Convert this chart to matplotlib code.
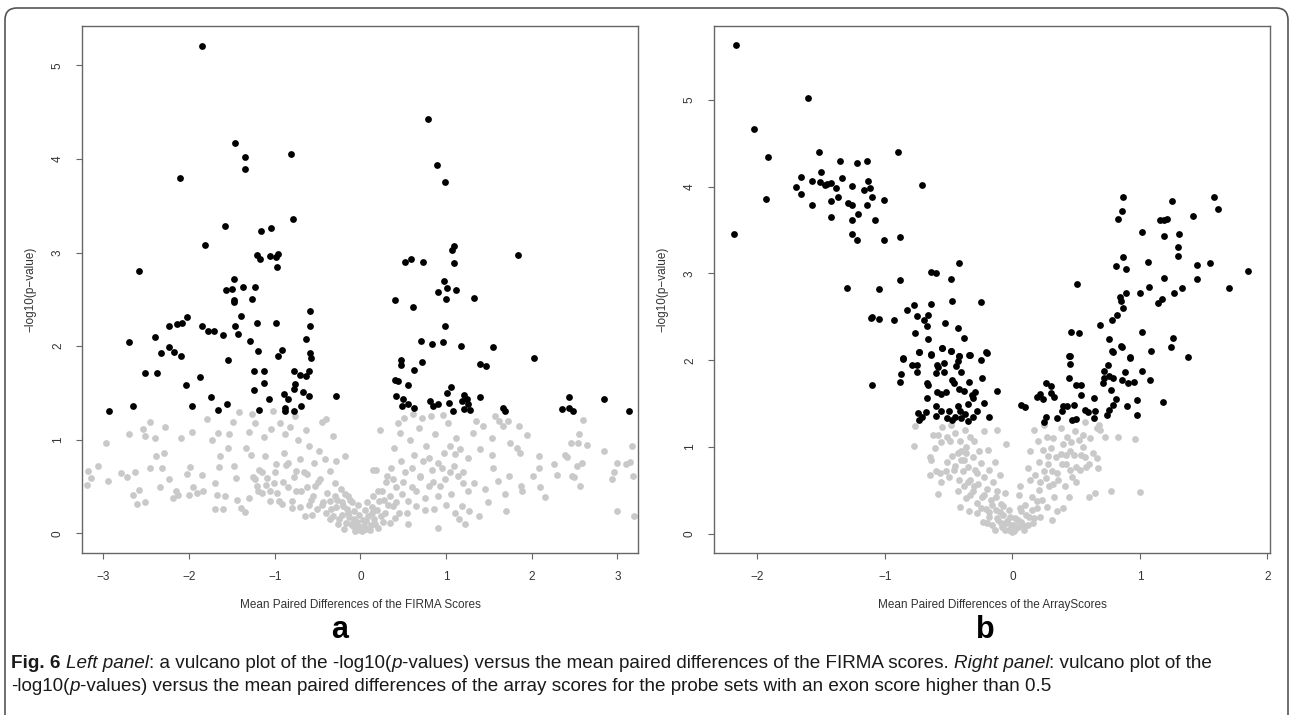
import matplotlib
matplotlib.use('Agg')
import matplotlib.pyplot as plt
from matplotlib.patches import FancyBboxPatch
from matplotlib.transforms import IdentityTransform

plt.rcParams['font.family'] = ['Liberation Sans', 'DejaVu Sans']

# ---- panel a: FIRMA scores ----
firma_sig = [
    (-1.85,5.21),(0.79,4.43),(-1.46,4.17),(-1.35,4.02),(-1.35,3.89),(-0.81,4.05),(-2.11,3.80),
    (0.89,3.93),(0.99,3.75),(-0.79,3.36),(-1.58,3.28),(-1.04,3.26),(-1.16,3.23),(-1.82,3.08),
    (1.09,3.07),(1.07,3.03),(-2.58,2.80),(-1.21,2.97),(-1.17,2.93),(-1.06,2.96),(-0.98,2.95),
    (-0.96,2.98),(-0.97,2.85),(1.84,2.97),(0.52,2.90),(0.59,2.93),(0.73,2.90),(1.09,2.89),
    (0.98,2.70),(1.01,2.62),(0.90,2.58),(1.11,2.60),(1.00,2.50),(1.32,2.51),(0.40,2.49),
    (0.61,2.42),(0.99,2.22),(-1.48,2.72),(-1.57,2.60),(-1.50,2.61),(-1.37,2.63),(-1.23,2.63),
    (-1.47,2.49),(-1.47,2.47),(-1.27,2.50),(-1.39,2.32),(-0.59,2.38),(-2.02,2.31),(-2.14,2.24),
    (-2.08,2.25),(-1.85,2.22),(-2.23,2.21),(-1.78,2.16),(-1.71,2.16),(-1.60,2.12),(-1.46,2.22),
    (-1.43,2.13),(-1.21,2.25),(-0.98,2.25),(-0.59,2.21),(-0.63,2.08),(-1.29,2.06),(-2.40,2.10),
    (-2.70,2.04),(0.71,2.06),(0.83,2.02),(0.96,2.04),(1.17,2.00),(1.55,1.99),(-1.20,1.95),
    (-0.92,1.96),(-2.33,1.93),(-2.23,1.99),(-2.18,1.94),(-0.59,1.93),(2.03,1.87),
    (-2.10,1.89),(-2.51,1.71),(-2.38,1.71),(-2.04,1.59),(-1.87,1.67),(-1.97,1.36),(-2.66,1.36),
    (-2.93,1.31),(-1.74,1.46),(-1.66,1.32),(-1.56,1.38),(-1.54,1.85),(-1.24,1.73),(-1.12,1.73),
    (-1.12,1.61),(-1.24,1.53),(-1.07,1.44),(-1.18,1.32),(-0.96,1.89),(-0.78,1.73),(-0.70,1.69),
    (-0.63,1.68),(-0.60,1.73),(-0.58,1.87),(-0.76,1.60),(-0.67,1.51),(-0.77,1.54),(-0.89,1.49),
    (-0.85,1.43),(-0.60,1.47),(-0.88,1.34),(-0.88,1.31),(-0.69,1.36),(-0.78,1.31),(-0.29,1.47),
    (0.47,1.85),(0.47,1.80),(0.72,1.83),(0.62,1.75),(0.40,1.64),(0.44,1.63),(0.55,1.59),
    (0.41,1.47),(0.50,1.43),(0.48,1.36),(0.56,1.38),(0.63,1.34),(0.81,1.41),(0.85,1.36),
    (0.91,1.38),(1.03,1.39),(1.08,1.31),(1.01,1.50),(1.06,1.56),(1.21,1.48),(1.24,1.43),
    (1.19,1.41),(1.26,1.38),(1.21,1.33),(1.28,1.32),(1.39,1.46),(1.40,1.81),(1.47,1.79),
    (1.66,1.34),(1.69,1.31),(2.35,1.33),(2.44,1.46),(2.43,1.34),(2.48,1.31),(2.84,1.43),
    (3.13,1.31),
]

firma_ns = [
    (-2.97,0.97),(-3.18,0.67),(-3.15,0.59),(-3.19,0.52),(-3.06,0.72),(-2.95,0.56),(-2.80,0.64),
    (-2.72,0.60),(-2.70,1.06),(-2.65,0.41),(-2.63,0.66),(-2.61,0.31),(-2.58,0.46),(-2.54,1.11),
    (-2.51,1.04),(-2.51,0.33),(-2.46,1.19),(-2.46,0.70),(-2.40,1.02),(-2.39,0.83),(-2.34,0.50),
    (-2.32,0.70),(-2.29,0.86),(-2.28,1.14),(-2.23,0.58),(-2.19,0.38),(-2.15,0.45),(-2.13,0.41),
    (-2.10,1.02),(-2.03,0.63),(-2.00,0.41),(-1.99,0.71),(-1.97,1.08),(-1.95,0.49),(-1.91,0.43),
    (-1.85,0.62),(-1.84,0.45),(-1.79,1.22),(-1.73,1.00),(-1.70,0.54),(-1.70,0.26),(-1.67,0.41),
    (-1.66,1.07),(-1.65,0.71),(-1.64,0.83),(-1.60,0.26),(-1.58,0.40),(-1.55,0.91),(-1.53,1.06),
    (-1.49,1.19),(-1.47,0.72),(-1.45,0.59),(-1.44,0.36),(-1.42,1.30),(-1.39,0.27),(-1.35,0.23),
    (-1.34,0.91),(-1.30,1.08),(-1.28,0.84),(-1.27,1.27),(-1.23,0.58),(-1.23,1.18),(-1.21,0.51),
    (-1.18,0.68),(-1.15,0.43),(-1.12,1.03),(-1.11,0.83),(-1.09,0.59),(-1.06,0.35),(-1.04,1.12),
    (-1.02,1.31),(-1.01,0.54),(-0.98,0.74),(-0.97,0.43),(-0.94,1.18),(-0.92,0.31),(-0.89,0.86),
    (-0.88,1.06),(-0.87,0.73),(-0.85,0.49),(-0.82,1.14),(-0.80,0.27),(-0.76,1.25),(-0.75,0.67),
    (-0.73,1.00),(-0.70,0.79),(-0.69,0.45),(-0.65,0.18),(-0.63,1.10),(-0.62,0.63),(-0.60,0.93),
    (-0.58,0.36),(-0.57,0.20),(-0.54,0.75),(-0.53,0.51),(-0.51,0.26),(-0.48,0.88),(-0.47,0.58),
    (-0.45,1.19),(-0.44,0.33),(-0.41,0.79),(-0.40,1.22),(-0.39,0.43),(-0.36,0.15),(-0.35,0.67),
    (-0.34,0.26),(-0.32,1.04),(-0.30,0.54),(-0.28,0.77),(-0.27,0.36),(-0.25,0.15),(-0.23,0.47),
    (-0.20,0.29),(-0.18,0.83),(-0.17,0.11),(-0.15,0.40),(-0.14,0.22),(-0.11,0.10),(-0.10,0.33),
    (-0.07,0.15),(-0.05,0.06),(-0.02,0.20),(0.00,0.04),(0.04,0.08),(0.07,0.13),(0.11,0.04),
    (0.14,0.22),(0.15,0.68),(0.17,0.10),(0.18,0.68),(0.20,0.45),(0.23,1.10),(0.24,0.18),
    (0.28,0.36),(0.31,0.61),(0.34,0.11),(0.36,0.70),(0.38,0.29),(0.39,0.91),(0.41,0.49),
    (0.44,1.18),(0.45,0.22),(0.46,1.07),(0.47,0.77),(0.49,0.42),(0.51,1.23),(0.52,0.65),
    (0.54,0.22),(0.56,0.10),(0.58,1.00),(0.60,0.49),(0.61,1.27),(0.63,0.84),(0.65,0.29),
    (0.68,1.13),(0.70,0.61),(0.72,1.23),(0.73,0.77),(0.75,0.38),(0.77,0.93),(0.80,0.51),
    (0.82,1.25),(0.83,0.68),(0.86,0.26),(0.87,1.06),(0.90,0.06),(0.91,0.75),(0.93,0.51),
    (0.96,1.26),(0.97,0.86),(0.99,0.58),(1.02,1.18),(1.04,0.93),(1.06,0.42),(1.09,0.72),
    (1.10,0.22),(1.12,1.02),(1.14,0.61),(1.16,0.90),(1.19,0.29),(1.20,0.54),(1.22,0.10),
    (1.25,0.81),(1.27,0.24),(1.31,1.07),(1.33,0.54),(1.35,1.20),(1.38,0.18),(1.40,0.90),
    (1.43,1.15),(1.45,0.47),(1.49,0.33),(1.53,1.02),(1.53,0.84),(1.55,0.70),(1.57,1.25),
    (1.60,0.56),(1.62,1.20),(1.66,1.15),(1.69,0.42),(1.70,0.24),(1.72,1.20),(1.74,0.61),
    (1.75,0.97),(1.83,0.91),(1.85,1.15),(1.86,0.86),(1.88,0.51),(1.89,0.45),(1.94,1.05),
    (2.02,0.61),(2.08,0.70),(2.09,0.83),(2.10,0.49),(2.15,0.39),(2.26,0.74),(2.30,0.62),
    (2.39,0.84),(2.41,0.82),(2.46,0.97),(2.47,0.61),(2.49,0.60),(2.53,0.72),(2.54,0.97),
    (2.55,1.06),(2.56,0.51),(2.59,0.75),(2.60,1.21),(2.65,0.94),(2.84,0.88),(2.94,0.58),
    (2.96,0.65),(3.00,0.75),(3.00,0.24),(3.10,0.74),(3.15,0.76),(3.17,0.93),(3.18,0.61),
    (3.19,0.19),
    (-0.45,0.30),(-0.40,0.22),(-0.35,0.35),(-0.32,0.18),(-0.30,0.40),(-0.28,0.28),(-0.26,0.10),
    (-0.22,0.34),(-0.21,0.20),(-0.19,0.05),(-0.18,0.42),(-0.16,0.26),(-0.13,0.17),(-0.12,0.36),
    (-0.09,0.08),(-0.08,0.24),(-0.06,0.02),(-0.04,0.12),(-0.03,0.30),(-0.01,0.07),(0.02,0.02),
    (0.03,0.14),(0.05,0.25),(0.06,0.05),(0.08,0.33),(0.09,0.18),(0.12,0.09),(0.13,0.28),
    (0.15,0.40),(0.16,0.15),(0.19,0.25),(0.21,0.06),(0.22,0.35),(0.25,0.45),(0.26,0.12),
    (0.29,0.22),(0.30,0.55),(0.32,0.30),(0.35,0.40),(0.38,0.58),(0.40,0.16),(0.42,0.33),
    (-0.50,0.55),(-0.55,0.40),(-0.60,0.30),(-0.62,0.50),(-0.66,0.65),(-0.70,0.28),(-0.75,0.45),
    (-0.78,0.60),(-0.80,0.35),(-0.85,0.75),(-0.90,0.55),(-0.95,0.35),(-1.00,0.65),(-1.05,0.45),
    (-1.10,0.52),(-1.15,0.65),(-1.20,0.45),(-1.25,0.60),(-1.30,0.38),(0.50,0.55),(0.55,0.35),
    (0.60,0.70),(0.65,0.45),(0.70,0.60),(0.75,0.25),(0.80,0.80),(0.85,0.55),(0.90,0.40),
    (0.95,0.70),(1.00,0.30),(1.05,0.65),(1.10,0.85),(1.15,0.15),(1.20,0.65),(1.25,0.45),
]

# ---- panel b: array scores ----
array_sig = [
    (-2.17,5.63),(-2.18,3.46),(-1.60,5.02),(-2.03,4.66),(-1.92,4.34),(-1.93,3.86),(-1.52,4.40),
    (-0.90,4.40),(-1.70,4.00),(-1.66,4.11),(-1.66,3.92),(-1.57,4.07),(-1.57,3.79),(-1.50,4.17),
    (-1.51,4.05),(-1.47,4.02),(-1.45,4.03),(-1.42,4.04),(-1.42,3.83),(-1.42,3.65),(-1.38,3.98),
    (-1.37,3.88),(-1.35,4.29),(-1.34,4.10),(-1.29,3.81),(-1.26,4.01),(-1.26,3.79),(-1.26,3.61),
    (-1.26,3.45),(-1.22,4.27),(-1.22,3.38),(-1.21,3.68),(-1.16,3.96),(-1.14,3.79),(-1.14,4.29),
    (-1.13,4.06),(-1.12,3.98),(-1.10,3.88),(-1.08,3.61),(-1.01,3.38),(-1.01,3.85),(-0.88,3.42),
    (-0.71,4.02),(-1.30,2.83),(-1.05,2.82),(-0.88,2.92),(-0.64,3.02),(-0.60,3.01),(-0.42,3.12),
    (-0.48,2.94),(-1.11,2.49),(-1.10,2.50),(-1.05,2.47),(-0.93,2.46),(-0.83,2.58),(-0.77,2.64),
    (-0.75,2.51),(-0.66,2.52),(-0.69,2.46),(-0.64,2.65),(-0.47,2.68),(-0.25,2.67),(-0.53,2.43),
    (-0.76,2.31),(-0.67,2.39),(-0.66,2.24),(-0.43,2.37),(-0.38,2.26),(-0.73,2.10),(-0.64,2.07),
    (-0.55,2.14),(-0.48,2.11),(-0.42,2.05),(-0.34,2.06),(-0.21,2.09),(-0.86,2.03),
    (0.51,2.88),(0.46,2.32),(0.52,2.31),(0.44,2.05),(0.69,2.41),(0.76,2.24),(0.78,2.11),
    (0.85,2.16),(0.92,2.04),(0.78,2.46),(0.82,2.52),(0.87,2.60),(0.85,2.68),(0.84,2.73),
    (0.89,2.78),(0.81,3.09),(0.89,3.05),(0.87,3.19),(0.83,3.63),(0.86,3.72),(0.87,3.88),
    (1.02,3.48),(1.06,3.13),(1.00,2.77),(1.07,2.84),(1.02,2.33),(1.09,2.11),(1.14,2.66),
    (1.17,2.71),(1.19,2.95),(1.19,3.43),(1.16,3.61),(1.19,3.62),(1.21,3.63),(1.25,3.84),
    (1.31,3.46),(1.30,3.31),(1.30,3.20),(1.27,2.78),(1.33,2.83),(1.26,2.26),(1.24,2.15),
    (1.38,2.04),(1.42,3.66),(1.45,3.10),(1.45,2.94),(1.55,3.12),(1.58,3.88),(1.61,3.74),
    (1.70,2.83),(1.85,3.03),
    (-1.10,1.71),(-0.88,1.75),(-0.87,1.84),(-0.86,2.02),(-0.79,1.94),(-0.75,1.94),(-0.75,1.86),
    (-0.73,2.09),(-0.67,1.74),(-0.66,1.72),(-0.67,1.57),(-0.64,2.06),(-0.60,1.85),(-0.59,1.95),
    (-0.58,1.92),(-0.59,1.64),(-0.56,1.61),(-0.52,1.63),(-0.60,1.47),(-0.56,1.41),(-0.60,1.36),
    (-0.54,1.97),(-0.54,1.87),(-0.55,2.14),(-0.48,2.11),(-0.47,1.77),(-0.46,1.74),(-0.44,1.93),
    (-0.43,1.99),(-0.42,2.05),(-0.40,1.87),(-0.42,1.67),(-0.38,1.65),(-0.34,1.75),(-0.33,2.06),
    (-0.32,1.60),(-0.35,1.50),(-0.31,1.56),(-0.29,1.64),(-0.43,1.47),(-0.41,1.41),(-0.45,1.35),
    (-0.40,1.34),(-0.37,1.38),(-0.35,1.30),(-0.47,1.31),(-0.31,1.35),(-0.28,1.41),(-0.25,2.00),
    (-0.24,1.79),(-0.22,1.51),(-0.20,2.08),(-0.18,1.35),(-0.12,1.65),(-0.74,1.39),(-0.71,1.35),
    (-0.73,1.31),(-0.68,1.40),(-0.51,1.33),(-0.50,1.41),
    (0.07,1.49),(0.10,1.46),(0.19,1.58),(0.22,1.61),(0.24,1.55),(0.26,1.74),(0.30,1.70),
    (0.30,1.62),(0.33,1.58),(0.26,1.35),(0.25,1.29),(0.35,1.34),(0.39,1.42),(0.40,1.47),
    (0.43,1.47),(0.45,2.05),(0.45,1.96),(0.44,1.80),(0.50,1.72),(0.54,1.72),(0.54,1.60),
    (0.48,1.49),(0.47,1.31),(0.50,1.32),(0.57,1.43),(0.59,1.40),(0.64,1.57),(0.65,1.42),
    (0.64,1.33),(0.72,1.88),(0.72,1.80),(0.71,1.74),(0.75,1.95),(0.76,1.82),(0.79,1.79),
    (0.77,1.66),(0.79,1.49),(0.81,1.55),(0.76,1.43),(0.74,1.37),(0.79,2.10),(0.86,2.15),
    (0.86,1.77),(0.88,1.87),(0.91,1.74),(0.92,2.03),(0.95,1.75),(0.90,1.47),(0.98,1.54),
    (0.98,1.37),(1.02,1.88),(1.08,1.77),(1.18,1.52),
]

array_ns = [
    (-0.76,1.24),(-0.77,1.01),(-0.65,0.89),(-0.64,0.85),(-0.65,0.68),(-0.62,1.14),(-0.61,0.99),
    (-0.60,0.72),(-0.58,1.14),(-0.58,0.46),(-0.57,0.70),(-0.56,1.06),(-0.56,0.60),(-0.55,1.23),
    (-0.51,1.12),(-0.51,0.83),(-0.50,0.66),(-0.49,1.07),(-0.48,1.26),(-0.46,0.74),(-0.45,1.16),
    (-0.43,0.49),(-0.43,0.93),(-0.42,0.62),(-0.41,0.31),(-0.41,1.07),(-0.40,0.85),(-0.39,0.72),
    (-0.38,0.55),(-0.37,1.20),(-0.36,0.93),(-0.36,0.41),(-0.35,0.77),(-0.34,0.26),(-0.33,1.12),
    (-0.33,0.62),(-0.31,0.89),(-0.31,0.49),(-0.30,1.07),(-0.29,0.74),(-0.28,0.36),(-0.28,0.24),
    (-0.27,0.58),(-0.26,0.95),(-0.25,0.82),(-0.24,0.43),(-0.23,0.14),(-0.22,1.19),(-0.22,0.66),
    (-0.21,0.29),(-0.20,0.52),(-0.19,0.97),(-0.18,0.20),(-0.18,0.74),(-0.17,0.39),(-0.16,0.10),
    (-0.15,0.60),(-0.14,0.83),(-0.13,0.28),(-0.12,0.49),(-0.12,1.20),(-0.11,0.16),(-0.10,0.68),
    (-0.09,0.35),(-0.08,0.08),(-0.07,0.22),(-0.06,0.47),(-0.05,1.04),(-0.05,0.13),(-0.03,0.05),
    (-0.02,0.20),(0.00,0.02),(0.01,0.10),(0.03,0.07),(0.04,0.16),(0.05,0.45),(0.06,0.55),
    (0.07,0.26),(0.08,0.10),(0.10,0.33),(0.12,0.76),(0.13,0.20),(0.14,0.62),(0.14,0.95),
    (0.15,0.43),(0.16,0.13),(0.17,1.20),(0.18,0.68),(0.19,0.30),(0.20,1.07),(0.21,0.51),
    (0.21,0.83),(0.22,0.20),(0.23,0.39),(0.24,0.97),(0.25,1.26),(0.26,0.64),(0.27,1.12),
    (0.27,0.31),(0.28,0.80),(0.29,0.55),(0.30,0.99),(0.31,0.16),(0.31,0.72),(0.32,1.10),
    (0.33,0.43),(0.34,0.88),(0.35,0.26),(0.36,0.62),(0.38,1.22),(0.39,0.81),(0.40,0.30),
    (0.40,1.04),(0.41,0.55),(0.42,0.91),(0.43,1.12),(0.44,0.43),(0.45,0.74),(0.46,1.06),
    (0.47,0.65),(0.48,0.91),(0.49,1.18),(0.50,0.77),(0.52,1.08),(0.53,0.74),(0.54,0.91),
    (0.55,1.14),(0.57,0.89),(0.57,1.29),(0.58,0.77),(0.60,0.43),(0.61,1.10),(0.63,0.93),
    (0.65,0.47),(0.66,1.22),(0.66,0.87),(0.67,0.76),(0.68,1.26),(0.69,1.20),(0.73,1.12),
    (0.77,0.49),(0.83,1.12),(0.96,1.09),(1.00,0.48),
    (-0.25,0.30),(-0.22,0.45),(-0.20,0.12),(-0.18,0.25),(-0.16,0.33),(-0.14,0.05),(-0.13,0.42),
    (-0.12,0.18),(-0.10,0.25),(-0.09,0.12),(-0.07,0.32),(-0.06,0.04),(-0.04,0.15),(-0.03,0.27),
    (-0.01,0.10),(0.01,0.03),(0.02,0.18),(0.04,0.08),(0.06,0.30),(0.07,0.14),(0.09,0.04),
    (0.11,0.22),(0.12,0.10),(0.15,0.28),(0.17,0.18),(0.19,0.38),(-0.30,0.55),(-0.28,0.70),
    (-0.33,0.45),(-0.35,0.60),(-0.38,0.85),(-0.40,0.95),(-0.45,0.78),(-0.47,0.90),(-0.52,0.72),
    (-0.36,1.00),(0.22,0.60),(0.25,0.72),(0.28,0.90),(0.32,0.58),(0.35,0.70),(0.38,0.92),
    (0.42,0.80),(0.45,0.95),(0.50,0.60),(0.55,1.00),(0.60,0.80),
]

firma_xticks = [-3, -2, -1, 0, 1, 2, 3]
array_xticks = [-2, -1, 0, 1, 2]
firma_yticks = [0, 1, 2, 3, 4, 5]
array_yticks = [0, 1, 2, 3, 4, 5]

W, H = 1292, 715
fig = plt.figure(figsize=(W / 100, H / 100), dpi=100)
fig.patch.set_facecolor('white')

GREY = '#c9c9c9'
AX_COL = '#666666'
TXT_COL = '#333333'


def volcano(ax, ns, sig, xlim, ylim, xticks, yticks, xlabel):
    ax.scatter([p[0] for p in ns], [p[1] for p in ns], s=24, color=GREY,
               linewidths=0, zorder=2)
    ax.scatter([p[0] for p in sig], [p[1] for p in sig], s=24, color='black',
               linewidths=0, zorder=3)
    ax.set_xlim(xlim)
    ax.set_ylim(ylim)
    ax.set_xticks(xticks)
    ax.set_yticks(yticks)
    ax.set_xticklabels(['\u2212%d' % -t if t < 0 else '%d' % t for t in xticks])
    for s in ax.spines.values():
        s.set_color(AX_COL)
        s.set_linewidth(1.0)
    ax.tick_params(direction='out', length=4, width=0.8, color=AX_COL,
                   labelsize=8.5, labelcolor=TXT_COL, pad=9)
    ax.tick_params(axis='y', labelrotation=90)
    for lab in ax.get_yticklabels():
        lab.set_va('center')
    ax.set_xlabel(xlabel, fontsize=8.5, color=TXT_COL)
    ax.set_ylabel('\u2212log10(p\u2212value)', fontsize=8.5, color=TXT_COL)
    ax.xaxis.set_label_coords(0.5, -0.098)
    ax.xaxis.label.set_va('center')
    ax.yaxis.set_label_coords(-0.092, 0.5)
    ax.yaxis.label.set_va('center')


ax1 = fig.add_axes([82 / W, 1 - 553 / H, (638 - 82) / W, 527 / H])
volcano(ax1, firma_ns, firma_sig, (-3.25, 3.24), (-0.21, 5.42),
        firma_xticks, firma_yticks, 'Mean Paired Differences of the FIRMA Scores')

ax2 = fig.add_axes([714 / W, 1 - 553 / H, (1270 - 714) / W, 527 / H])
volcano(ax2, array_ns, array_sig, (-2.34, 2.02), (-0.22, 5.85),
        array_xticks, array_yticks, 'Mean Paired Differences of the ArrayScores')

# panel letters
fig.text(340 / W, 1 - 638 / H, 'a', fontsize=22, fontweight='bold',
         ha='center', va='baseline')
fig.text(985 / W, 1 - 638 / H, 'b', fontsize=22, fontweight='bold',
         ha='center', va='baseline')

# outer rounded frame (open at the bottom)
frame = FancyBboxPatch((5, -30), 1283, 737, boxstyle='round,pad=0,rounding_size=12',
                       transform=IdentityTransform(), fill=False,
                       edgecolor='#555555', linewidth=1.2)
fig.add_artist(frame)

# caption with mixed styles
renderer = fig.canvas.get_renderer()
CAP_SIZE = 13.6


def caption_line(runs, x0, y0):
    x = x0
    for txt, style, weight in runs:
        t = fig.text(x / W, 1 - y0 / H, txt, fontsize=CAP_SIZE, style=style,
                     fontweight=weight, va='baseline', ha='left', color='#1a1a1a')
        x += t.get_window_extent(renderer).width


line1 = [
    ('Fig. 6', 'normal', 'bold'),
    (' ', 'normal', 'normal'),
    ('Left panel', 'italic', 'normal'),
    (': a vulcano plot of the -log10(', 'normal', 'normal'),
    ('p', 'italic', 'normal'),
    ('-values) versus the mean paired differences of the FIRMA scores. ', 'normal', 'normal'),
    ('Right panel', 'italic', 'normal'),
    (': vulcano plot of the', 'normal', 'normal'),
]
line2 = [
    ('-log10(', 'normal', 'normal'),
    ('p', 'italic', 'normal'),
    ('-values) versus the mean paired differences of the array scores for the probe sets '
     'with an exon score higher than 0.5', 'normal', 'normal'),
]
caption_line(line1, 11, 668)
caption_line(line2, 11, 691)

fig.savefig('out.png', dpi=100)
